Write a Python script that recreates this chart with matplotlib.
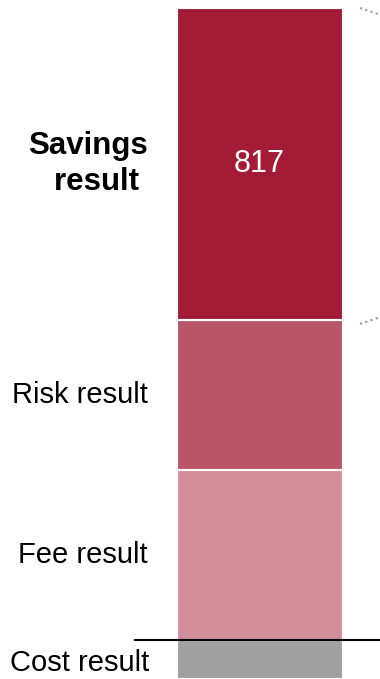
import numpy as np
import matplotlib
matplotlib.use('Agg')
import matplotlib.pyplot as plt

plt.rcParams['font.family'] = ['Liberation Sans', 'DejaVu Sans']

# waterfall segments, bottom to top
labels = ['Cost result', 'Fee result', 'Risk result', 'Savings result']
values = [-102, 445, 393, 817]
colors = ['#a0a0a0', '#d18e9a', '#b85668', '#a31c37']

fig = plt.figure(figsize=(3.8, 6.79), dpi=100)
ax = fig.add_axes([0, 0, 1, 1])
ax.set_xlim(0, 380)
ax.set_ylim(-102, 1676)
ax.axis('off')

xc = 259.5
bw = 166
fs = 21
base = 0
for lab, v, c in zip(labels, values, colors):
    if v < 0:
        ax.bar(xc, v, bottom=0, width=bw, color=c, edgecolor='white', linewidth=1.5)
    else:
        ax.bar(xc, v, bottom=base, width=bw, color=c, edgecolor='white', linewidth=1.5)
        ymid = base + v / 2
        base += v
    if lab == 'Savings result':
        ax.text(148, ymid, 'Savings\nresult ', ha='right', va='center',
                fontsize=22.5, fontweight='bold', linespacing=1.27)
        ax.text(xc, ymid, str(v), ha='center', va='center',
                fontsize=fs + 1, color='white')
    elif lab == 'Cost result':
        ax.text(149, -60, lab, ha='right', va='center', fontsize=fs)
    else:
        ax.text(148, ymid, lab, ha='right', va='center', fontsize=fs)

# zero baseline
ax.plot([135, 380], [0, 0], color='black', linewidth=1.5)

# leader lines to the next chart (cut off)
top = sum(values[1:])
ax.plot([360, 400], [top, top - 35], color='#999999', linestyle=':', linewidth=1.5)
ax.plot([360, 400], [top - values[3] - 10, top - values[3] + 25],
        color='#999999', linestyle=':', linewidth=1.5)

fig.savefig('out.png', dpi=100)
